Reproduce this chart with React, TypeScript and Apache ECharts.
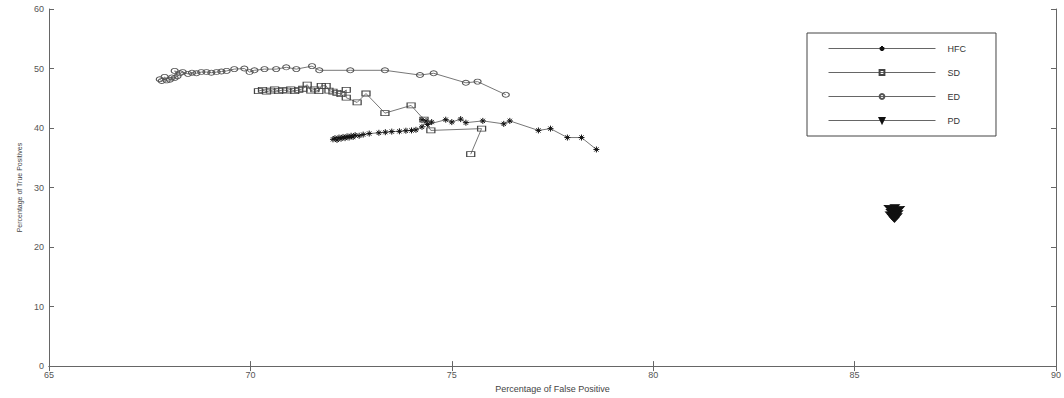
import React, { useEffect, useRef } from "react";
import * as echarts from "echarts";

const seriesNames = ["HFC", "SD", "ED", "PD"];

const hfcX = [72.05, 72.1, 72.15, 72.2, 72.25, 72.3, 72.35, 72.4, 72.45, 72.5, 72.55, 72.6, 72.7, 72.8, 72.95, 73.19, 73.35, 73.51, 73.7, 73.86, 74.0, 74.11, 74.26, 74.36, 74.26, 74.5, 74.4, 74.85, 75.0, 75.22, 75.35, 75.77, 76.29, 76.44, 77.15, 77.45, 77.87, 78.22, 78.59];
const hfcY = [38.1, 38.3, 38.0, 38.4, 38.2, 38.5, 38.3, 38.6, 38.4, 38.7, 38.5, 38.8, 38.7, 38.9, 39.07, 39.2, 39.3, 39.4, 39.45, 39.55, 39.6, 39.7, 40.2, 41.2, 41.4, 41.0, 40.6, 41.4, 41.0, 41.5, 40.9, 41.2, 40.7, 41.2, 39.6, 39.9, 38.4, 38.4, 36.4];

const sdX = [70.2, 70.3, 70.4, 70.5, 70.6, 70.7, 70.8, 70.9, 71.0, 71.1, 71.2, 71.3, 71.41, 71.5, 71.6, 71.7, 71.76, 71.88, 71.95, 72.05, 72.15, 72.25, 72.38, 72.38, 72.65, 72.87, 73.34, 73.99, 74.31, 74.48, 75.74, 75.47];
const sdY = [46.2, 46.4, 46.1, 46.3, 46.5, 46.2, 46.4, 46.3, 46.5, 46.2, 46.4, 46.6, 47.3, 46.3, 46.5, 46.2, 47.1, 47.1, 46.3, 46.1, 45.9, 45.7, 46.4, 45.1, 44.3, 45.8, 42.5, 43.8, 41.4, 39.6, 39.9, 35.6];

const edX = [67.75, 67.8, 67.87, 67.92, 68.0, 68.05, 68.12, 68.19, 68.12, 68.25, 68.32, 68.45, 68.55, 68.66, 68.78, 68.91, 69.03, 69.16, 69.28, 69.41, 69.6, 69.85, 69.98, 70.1, 70.35, 70.64, 70.89, 71.14, 71.53, 71.71, 72.48, 73.34, 74.21, 74.55, 75.35, 75.64, 76.34];
const edY = [48.2, 47.9, 48.6, 48.0, 48.1, 48.5, 48.4, 48.7, 49.6, 49.2, 49.4, 49.1, 49.3, 49.2, 49.4, 49.4, 49.3, 49.4, 49.5, 49.6, 49.9, 50.0, 49.4, 49.7, 49.9, 49.9, 50.2, 49.9, 50.4, 49.7, 49.7, 49.7, 48.9, 49.2, 47.6, 47.8, 45.6];

const pdX = [85.85, 86.0, 86.12, 85.92, 86.05, 85.9, 85.97, 86.08, 85.88, 86.02, 85.95, 86.06, 85.93, 86.0, 85.97, 85.99];
const pdY = [26.6, 26.7, 26.4, 26.2, 26.1, 25.9, 25.8, 25.7, 25.5, 25.5, 25.3, 25.2, 25.1, 25.0, 24.8, 24.6];

const xMin = 65, xMax = 90, xStep = 5;
const yMin = 0, yMax = 60, yStep = 10;

const zip = (xs: number[], ys: number[]) => xs.map((x, i) => [x, ys[i]]);

const FONT = "Liberation Sans";
const asterisk = "path://M5 0L5 10M0 5L10 5M1.5 1.5L8.5 8.5M1.5 8.5L8.5 1.5";

export default function App() {
  const ref = useRef<HTMLDivElement>(null);
  useEffect(() => {
    if (!ref.current) return;
    const chart = echarts.init(ref.current, undefined, { renderer: "svg" });
    const axisLine = { show: true, lineStyle: { color: "#666", width: 1 } };
    const tick = { show: true, inside: true, length: 5, lineStyle: { color: "#666" } };
    const label = { color: "#555", fontFamily: FONT, fontSize: 9 };
    const lineStyle = { color: "#777", width: 1 };
    chart.setOption({
      animation: false,
      backgroundColor: "#fff",
      grid: { left: 49, right: 4, top: 9, bottom: 23, containLabel: false },
      legend: {
        orient: "vertical",
        left: 807,
        top: 33,
        padding: [11, 30, 11, 21],
        itemWidth: 107,
        itemHeight: 6,
        itemGap: 15,
        borderColor: "#444",
        borderWidth: 1,
        backgroundColor: "#fff",
        lineStyle: { width: 1, color: "#666" },
        inactiveColor: "#333",
        textStyle: { color: "#333", fontFamily: FONT, fontSize: 9, padding: [0, 0, 0, 7] },
        data: seriesNames,
      },
      xAxis: [
        {
          type: "value", min: xMin, max: xMax, interval: xStep, position: "bottom",
          axisLine, axisTick: tick, splitLine: { show: false },
          axisLabel: { ...label, margin: 4 },
          name: "Percentage of False Positive", nameLocation: "middle", nameGap: 15,
          nameTextStyle: { color: "#444", fontFamily: FONT, fontSize: 9 },
        },
        {
          type: "value", min: xMin, max: xMax, interval: xStep, position: "top",
          axisLine, axisTick: tick, splitLine: { show: false }, axisLabel: { show: false },
        },
      ],
      yAxis: [
        {
          type: "value", min: yMin, max: yMax, interval: yStep, position: "left",
          axisLine, axisTick: tick, splitLine: { show: false },
          axisLabel: { ...label, margin: 5 },
          name: "Percentage of True Positives", nameLocation: "middle", nameGap: 23,
          nameRotate: 90,
          nameTextStyle: { color: "#444", fontFamily: FONT, fontSize: 7 },
        },
        {
          type: "value", min: yMin, max: yMax, interval: yStep, position: "right",
          axisLine, axisTick: tick, splitLine: { show: false }, axisLabel: { show: false },
        },
      ],
      series: [
        {
          name: "HFC", type: "line", data: zip(hfcX, hfcY),
          symbol: asterisk, symbolSize: 6,
          lineStyle, itemStyle: { color: "#111", borderColor: "#111", borderWidth: 1 },
        },
        {
          name: "SD", type: "line", data: zip(sdX, sdY),
          symbol: "rect", symbolSize: [8, 5],
          lineStyle, itemStyle: { color: "rgba(255,255,255,0)", borderColor: "#444", borderWidth: 1 },
        },
        {
          name: "ED", type: "line", data: zip(edX, edY),
          symbol: "circle", symbolSize: [7, 5],
          lineStyle, itemStyle: { color: "rgba(255,255,255,0)", borderColor: "#555", borderWidth: 1 },
        },
        {
          name: "PD", type: "line", data: zip(pdX, pdY),
          symbol: "triangle", symbolRotate: 180, symbolSize: [9, 5],
          lineStyle, itemStyle: { color: "#111", borderColor: "#111", borderWidth: 1 },
        },
      ],
    });
    return () => chart.dispose();
  }, []);
  return (
    <div
      ref={ref}
      style={{ position: "fixed", left: 0, top: 0, width: 1064, height: 398, background: "#fff" }}
    />
  );
}
